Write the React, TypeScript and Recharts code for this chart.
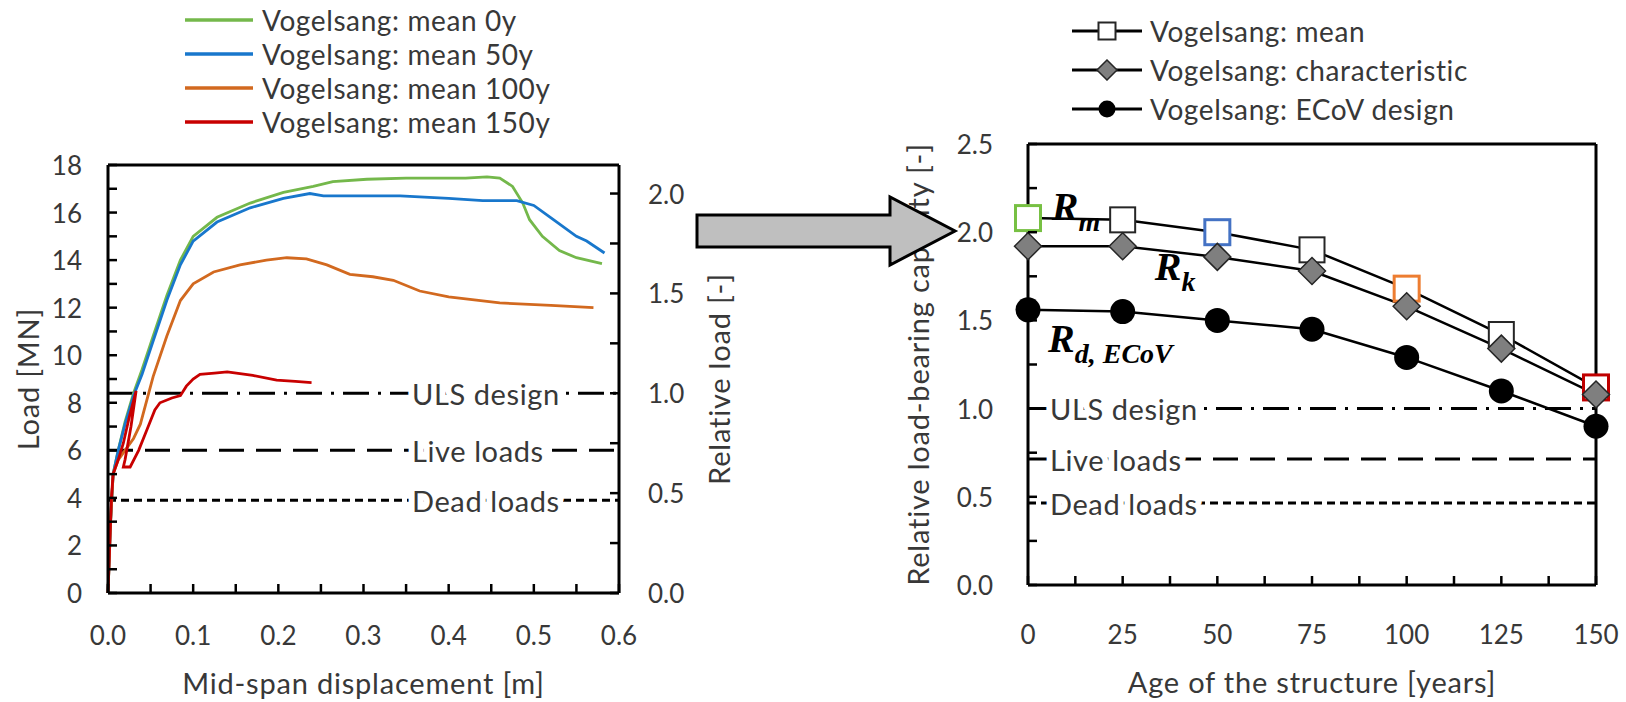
import React from 'react';
import { LineChart, Line, XAxis, YAxis, ReferenceLine, ReferenceDot, Label } from 'recharts';

const FONT = 'Lato, "Open Sans", sans-serif';
const INK = '#383838';
const AXIS_LINE = { stroke: '#000', strokeWidth: 3 };

// ---------- left chart: load vs mid-span displacement ----------
const disp0y = [0, 0.003, 0.006, 0.012, 0.02, 0.03, 0.04, 0.053, 0.069, 0.085, 0.1, 0.128, 0.167, 0.206, 0.241, 0.264, 0.304, 0.35, 0.42, 0.445, 0.46, 0.475, 0.487, 0.495, 0.51, 0.53, 0.55, 0.58];
const load0y = [0, 3.0, 5.0, 6.0, 7.2, 8.4, 9.4, 10.8, 12.5, 14.0, 15.0, 15.8, 16.4, 16.85, 17.1, 17.3, 17.4, 17.45, 17.45, 17.5, 17.45, 17.1, 16.4, 15.7, 15.0, 14.4, 14.1, 13.85];

const disp50y = [0, 0.003, 0.006, 0.012, 0.02, 0.03, 0.04, 0.053, 0.069, 0.085, 0.1, 0.128, 0.167, 0.206, 0.237, 0.253, 0.3, 0.343, 0.4, 0.44, 0.48, 0.5, 0.523, 0.55, 0.562, 0.583];
const load50y = [0, 3.0, 5.0, 6.0, 7.1, 8.3, 9.2, 10.6, 12.3, 13.8, 14.8, 15.6, 16.2, 16.6, 16.8, 16.7, 16.7, 16.7, 16.6, 16.5, 16.5, 16.3, 15.7, 15.0, 14.8, 14.3];

const disp100y = [0, 0.003, 0.006, 0.012, 0.02, 0.03, 0.038, 0.053, 0.069, 0.085, 0.1, 0.124, 0.155, 0.186, 0.21, 0.233, 0.257, 0.284, 0.311, 0.335, 0.366, 0.4, 0.46, 0.52, 0.57];
const load100y = [0, 3.0, 5.0, 5.6, 6.0, 6.5, 7.1, 9.1, 10.8, 12.3, 13.0, 13.5, 13.8, 14.0, 14.1, 14.05, 13.8, 13.4, 13.3, 13.15, 12.7, 12.45, 12.2, 12.1, 12.0];

const disp150y = [0, 0.002, 0.004, 0.006, 0.012, 0.018, 0.025, 0.033, 0.027, 0.02, 0.018, 0.026, 0.036, 0.045, 0.055, 0.061, 0.075, 0.085, 0.092, 0.1, 0.108, 0.125, 0.14, 0.17, 0.198, 0.22, 0.239];
const load150y = [0, 2.0, 4.0, 5.0, 5.6, 6.3, 7.4, 8.5, 7.0, 5.6, 5.3, 5.3, 6.0, 6.8, 7.7, 8.0, 8.2, 8.3, 8.7, 9.0, 9.2, 9.25, 9.3, 9.15, 8.95, 8.9, 8.85];

const curveNames = ['Vogelsang: mean 0y', 'Vogelsang: mean 50y', 'Vogelsang: mean 100y', 'Vogelsang: mean 150y'];
const curveColors = ['#74b84b', '#1877cc', '#d2691f', '#c80000'];

const dispTicks = [0, 0.05, 0.1, 0.15, 0.2, 0.25, 0.3, 0.35, 0.4, 0.45, 0.5, 0.55, 0.6];
const loadTicks = [0, 1, 2, 3, 4, 5, 6, 7, 8, 9, 10, 11, 12, 13, 14, 15, 16, 17, 18];
const relTicks = [0, 0.25, 0.5, 0.75, 1, 1.25, 1.5, 1.75, 2];

// load levels [MN]; ULS design load = relative 1.0
const limitLabels = ['ULS design', 'Live loads', 'Dead loads'];
const limitLoadsMN = [8.4, 6.0, 3.9];
const limitDashes = ['26 9 3 9', '25 12', '8 5'];
const ULS_MN = limitLoadsMN[0];

// ---------- right chart: relative capacity vs age ----------
const ages = [0, 25, 50, 75, 100, 125, 150];
const meanCapacity = [2.08, 2.07, 2.0, 1.9, 1.68, 1.42, 1.12];
const characteristicCapacity = [1.92, 1.92, 1.86, 1.78, 1.58, 1.34, 1.08];
const ecovDesignCapacity = [1.56, 1.55, 1.5, 1.45, 1.29, 1.1, 0.9];

const capacityNames = ['Vogelsang: mean', 'Vogelsang: characteristic', 'Vogelsang: ECoV design'];
const ageTicks = [0, 12.5, 25, 37.5, 50, 62.5, 75, 87.5, 100, 112.5, 125, 137.5, 150];
const capTicks = [0, 0.25, 0.5, 0.75, 1, 1.25, 1.5, 1.75, 2, 2.25, 2.5];

// mean squares at the ages of the left-hand curves get that curve's colour
const ageHighlight: Record<number, string> = { 0: '#77c043', 50: '#4472c4', 100: '#ed7d31', 150: '#c00000' };

const symbolAnchors = [
  { sub: 'm', age: 6.3, value: 2.07 },
  { sub: 'k', age: 33.5, value: 1.73 },
  { sub: 'd, ECoV', age: 5.3, value: 1.32 },
];

const curves = curveNames.map((name, i) => {
  const xs = [disp0y, disp50y, disp100y, disp150y][i];
  const ys = [load0y, load50y, load100y, load150y][i];
  return { name, color: curveColors[i], points: xs.map((x, j) => ({ x, y: ys[j] })) };
});

const capacityRows = ages.map((age, i) => ({
  age,
  mean: meanCapacity[i],
  characteristic: characteristicCapacity[i],
  ecov: ecovDesignCapacity[i],
}));

const tickTxt = { fontFamily: FONT, fontSize: 26, fill: INK };
const titleTxt = { fontFamily: FONT, fontSize: 29, fill: INK, letterSpacing: 0.8 };
const limitTxt = { fontFamily: FONT, fontSize: 29, fill: INK, letterSpacing: 0.6 };
const onStep = (v: number, step: number) => Math.abs(v / step - Math.round(v / step)) < 1e-6;

// inner tick marks + labels on major values
const yTick = (side: 'left' | 'right', step: number, digits: number, gap: number) => (p: any) => {
  const v = p.payload.value;
  const dir = side === 'left' ? 1 : -1;
  return (
    <g>
      <line x1={p.x} x2={p.x + dir * 9} y1={p.y} y2={p.y} stroke="#000" strokeWidth={2.5} />
      {onStep(v, step) && (
        <text x={p.x - dir * gap} y={p.y} textAnchor={side === 'left' ? 'end' : 'start'} dominantBaseline="central" {...tickTxt}>
          {v.toFixed(digits)}
        </text>
      )}
    </g>
  );
};

const xTick = (step: number, digits: number, gap: number) => (p: any) => {
  const v = p.payload.value;
  return (
    <g>
      <line x1={p.x} x2={p.x} y1={p.y} y2={p.y - 9} stroke="#000" strokeWidth={2.5} />
      {onStep(v, step) && (
        <text x={p.x} y={p.y + gap} textAnchor="middle" dominantBaseline="central" {...tickTxt}>
          {v.toFixed(digits)}
        </text>
      )}
    </g>
  );
};

const vTitle = (text: string, dx: number) => (p: any) => {
  const vb = p.viewBox;
  const cx = vb.x + dx;
  const cy = vb.y + vb.height / 2;
  return (
    <text x={cx} y={cy} transform={`rotate(-90 ${cx} ${cy})`} textAnchor="middle" dominantBaseline="central" {...titleTxt}>
      {text}
    </text>
  );
};

const hTitle = (text: string, dy: number) => (p: any) => {
  const vb = p.viewBox;
  return (
    <text x={vb.x + vb.width / 2} y={vb.y + dy} textAnchor="middle" dominantBaseline="central" {...titleTxt}>
      {text}
    </text>
  );
};

// label sits on the line; a white halo cuts the line around the text
const limitLabel = (text: string, dx: number) => (p: any) => (
  <text
    x={p.viewBox.x + dx}
    y={p.viewBox.y}
    dominantBaseline="central"
    {...limitTxt}
    stroke="#fff"
    strokeWidth={12}
    strokeLinejoin="round"
    paintOrder="stroke"
  >
    {text}
  </text>
);

type Kind = 'square' | 'diamond' | 'circle';
const markerKinds: Kind[] = ['square', 'diamond', 'circle'];

const Marker = ({ kind, cx, cy, size, stroke }: { kind: Kind; cx: number; cy: number; size: number; stroke?: string }) => {
  const h = size / 2;
  if (kind === 'square') {
    const colored = stroke && stroke !== '#262626';
    return <rect x={cx - h} y={cy - h} width={size} height={size} fill="#fff" stroke={stroke || '#262626'} strokeWidth={colored ? 3 : 2} />;
  }
  if (kind === 'diamond') {
    return (
      <polygon
        points={`${cx},${cy - h} ${cx + h},${cy} ${cx},${cy + h} ${cx - h},${cy}`}
        fill="#7f7f7f"
        stroke="#262626"
        strokeWidth={1.5}
      />
    );
  }
  return <circle cx={cx} cy={cy} r={h} fill="#000" />;
};

const legendTxt: React.CSSProperties = { fontFamily: FONT, fontSize: 28, letterSpacing: 0.6, color: INK, whiteSpace: 'nowrap' };

const LoadLegend = () => (
  <div style={{ position: 'absolute', left: 185, top: 3, ...legendTxt }}>
    {curveNames.map((name, i) => (
      <div key={name} style={{ display: 'flex', alignItems: 'center', height: 34 }}>
        <svg width={68} height={6} style={{ marginRight: 9 }}>
          <line x1={0} x2={68} y1={3} y2={3} stroke={curveColors[i]} strokeWidth={3.5} />
        </svg>
        <span>{name}</span>
      </div>
    ))}
  </div>
);

const CapacityLegend = () => (
  <div style={{ position: 'absolute', left: 1072, top: 11, ...legendTxt }}>
    {capacityNames.map((name, i) => (
      <div key={name} style={{ display: 'flex', alignItems: 'center', height: 39 }}>
        <svg width={70} height={22} style={{ marginRight: 8 }}>
          <line x1={0} x2={70} y1={11} y2={11} stroke="#000" strokeWidth={3} />
          <Marker kind={markerKinds[i]} cx={35} cy={11} size={i === 1 ? 20 : 17} />
        </svg>
        <span>{name}</span>
      </div>
    ))}
  </div>
);

const LoadChart = () => (
  <LineChart width={760} height={702} margin={{ top: 165, right: 0, bottom: 0, left: 0 }}>
    <XAxis
      type="number"
      dataKey="x"
      domain={[0, 0.6]}
      ticks={dispTicks}
      interval={0}
      height={109}
      axisLine={AXIS_LINE}
      tickLine={false}
      tickSize={0}
      tickMargin={0}
      tick={xTick(0.1, 1, 42)}
    >
      <Label content={hTitle('Mid-span displacement [m]', 89)} />
    </XAxis>
    <YAxis
      yAxisId="load"
      type="number"
      domain={[0, 18]}
      ticks={loadTicks}
      interval={0}
      width={108}
      axisLine={AXIS_LINE}
      tickLine={false}
      tickSize={0}
      tickMargin={0}
      tick={yTick('left', 2, 0, 26)}
    >
      <Label content={vTitle('Load [MN]', 27)} />
    </YAxis>
    <YAxis
      yAxisId="rel"
      orientation="right"
      type="number"
      domain={[0, 18 / ULS_MN]}
      allowDataOverflow
      ticks={relTicks}
      interval={0}
      width={141}
      axisLine={AXIS_LINE}
      tickLine={false}
      tickSize={0}
      tickMargin={0}
      tick={yTick('right', 0.5, 1, 29)}
    >
      <Label content={vTitle('Relative load [-]', 99)} />
    </YAxis>
    <ReferenceLine yAxisId="load" y={18} stroke="#000" strokeWidth={3} />
    {limitLabels.map((name, i) => (
      <ReferenceLine
        key={name}
        yAxisId="load"
        y={limitLoadsMN[i]}
        stroke="#000"
        strokeWidth={3}
        strokeDasharray={limitDashes[i]}
        label={limitLabel(name, 304)}
      />
    ))}
    {curves.map((c) => (
      <Line
        key={c.name}
        yAxisId="load"
        name={c.name}
        data={c.points}
        dataKey="y"
        stroke={c.color}
        strokeWidth={2.8}
        dot={false}
        type="linear"
        isAnimationActive={false}
      />
    ))}
  </LineChart>
);

const dotFor = (kind: Kind, size: number, useHighlight: boolean) => (p: any) => (
  <Marker
    key={`${kind}-${p.index}`}
    kind={kind}
    cx={p.cx}
    cy={p.cy}
    size={size}
    stroke={useHighlight ? ageHighlight[p.payload.age] || '#262626' : undefined}
  />
);

const CapacityChart = () => (
  <LineChart width={786} height={702} data={capacityRows} margin={{ top: 144, right: 30, bottom: 0, left: 0 }}>
    <XAxis
      type="number"
      dataKey="age"
      domain={[0, 150]}
      ticks={ageTicks}
      interval={0}
      height={117}
      axisLine={AXIS_LINE}
      tickLine={false}
      tickSize={0}
      tickMargin={0}
      tick={xTick(25, 0, 49)}
    >
      <Label content={hTitle('Age of the structure [years]', 96)} />
    </XAxis>
    <YAxis
      type="number"
      domain={[0, 2.5]}
      ticks={capTicks}
      interval={0}
      width={188}
      axisLine={AXIS_LINE}
      tickLine={false}
      tickSize={0}
      tickMargin={0}
      tick={yTick('left', 0.5, 1, 35)}
    >
      <Label content={vTitle('Relative load-bearing capacity [-]', 77)} />
    </YAxis>
    <ReferenceLine y={2.5} stroke="#000" strokeWidth={3} />
    <ReferenceLine x={150} stroke="#000" strokeWidth={3} />
    {limitLabels.map((name, i) => (
      <ReferenceLine
        key={name}
        y={limitLoadsMN[i] / ULS_MN}
        stroke="#000"
        strokeWidth={3}
        strokeDasharray={limitDashes[i]}
        label={limitLabel(name, 22)}
      />
    ))}
    <Line name={capacityNames[0]} dataKey="mean" stroke="#000" strokeWidth={2.5} dot={dotFor('square', 25, true)} isAnimationActive={false} />
    <Line name={capacityNames[1]} dataKey="characteristic" stroke="#000" strokeWidth={2.5} dot={dotFor('diamond', 27, false)} isAnimationActive={false} />
    <Line name={capacityNames[2]} dataKey="ecov" stroke="#000" strokeWidth={2.5} dot={dotFor('circle', 25, false)} isAnimationActive={false} />
    {symbolAnchors.map((s) => (
      <ReferenceDot
        key={s.sub}
        x={s.age}
        y={s.value}
        r={0}
        shape={(p: any) => (
          <text x={p.cx} y={p.cy} fontFamily='"Liberation Serif", "DejaVu Serif", serif' fontStyle="italic" fontWeight="bold" fontSize={40} fill="#000">
            R
            <tspan fontSize={28} dy={11}>
              {s.sub}
            </tspan>
          </text>
        )}
      />
    ))}
  </LineChart>
);

export default function App() {
  return (
    <div style={{ position: 'absolute', left: 0, top: 0, width: 1626, height: 702, background: '#fff', overflow: 'hidden' }}>
      <div style={{ position: 'absolute', left: 0, top: 0 }}>
        <LoadChart />
      </div>
      <div style={{ position: 'absolute', left: 840, top: 0 }}>
        <CapacityChart />
      </div>
      <LoadLegend />
      <CapacityLegend />
      <svg width={1626} height={702} style={{ position: 'absolute', left: 0, top: 0, pointerEvents: 'none' }}>
        <polygon
          points="697,215 890,215 890,197 955,231 890,265 890,247 697,247"
          fill="#bfbfbf"
          stroke="#000"
          strokeWidth={3}
          strokeLinejoin="miter"
        />
      </svg>
    </div>
  );
}
